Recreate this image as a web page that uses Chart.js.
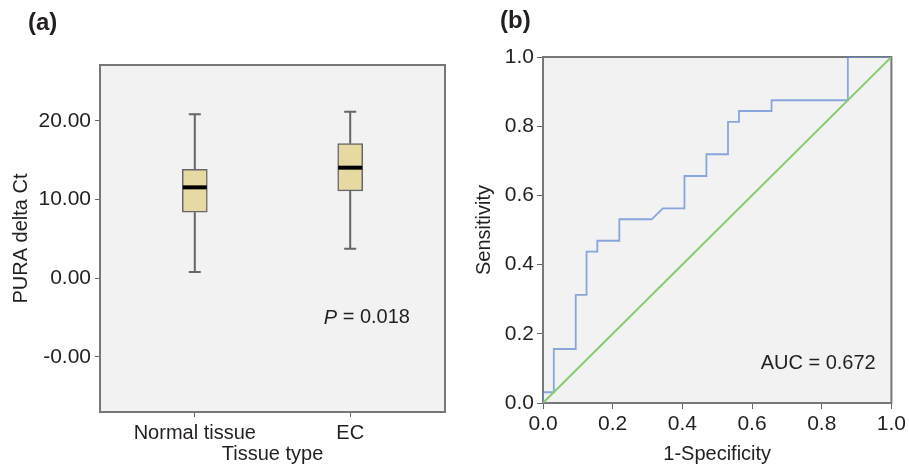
<!DOCTYPE html>
<html>
<head>
<meta charset="utf-8">
<script src="https://cdn.jsdelivr.net/npm/chart.js@4/dist/chart.umd.min.js"></script>
<style>
  body { margin: 0; background: #fff; }
  #wrap { position: relative; width: 909px; height: 470px; font-family: "Liberation Sans", Arial, sans-serif; color: #231f20; }
  .panel { position: absolute; top: 0; height: 470px; }
  .tag { position: absolute; font-weight: bold; font-size: 24px; }
</style>
</head>
<body>
<div id="wrap">
  <div class="panel" style="left:0;width:460px"><canvas id="boxChart"></canvas></div>
  <div class="panel" style="left:460px;width:449px"><canvas id="rocChart"></canvas></div>
  <div class="tag" style="left:28px;top:8px">(a)</div>
  <div class="tag" style="left:500px;top:6px">(b)</div>
</div>
<script>
// === (a) box plot data ===
const tissueTypes = ['Normal tissue', 'EC'];
const whiskerLow = [0.8, 3.75];
const boxQ1 = [8.4, 11.1];
const boxMedian = [11.55, 14.05];
const boxQ3 = [13.85, 17.1];
const whiskerHigh = [20.85, 21.15];
const deltaTicks = [-10, 0, 10, 20];
const deltaTickLabels = ['-0.00', '0.00', '10.00', '20.00'];

// === (b) ROC data ===
const fpr = [0, 0, 0.031, 0.031, 0.094, 0.094, 0.125, 0.125, 0.156, 0.156, 0.219, 0.219, 0.312, 0.344,
             0.406, 0.406, 0.469, 0.469, 0.531, 0.531, 0.5625, 0.5625, 0.656, 0.656, 0.875, 0.875, 1];
const tpr = [0, 0.031, 0.031, 0.156, 0.156, 0.3125, 0.3125, 0.4375, 0.4375, 0.469, 0.469, 0.531, 0.531, 0.5625,
             0.5625, 0.656, 0.656, 0.719, 0.719, 0.8125, 0.8125, 0.844, 0.844, 0.875, 0.875, 1, 1];
const refLine = [0, 1];
const rocTicks = [0, 0.2, 0.4, 0.6, 0.8, 1.0];

const textColor = '#231f20';
const tickFont = { family: '"Liberation Sans", Arial, sans-serif', size: 21 };
const titleFont = { family: '"Liberation Sans", Arial, sans-serif', size: 20 };

// grey plot background + frame (drawn under the data lines)
const plotFrame = {
  id: 'plotFrame',
  beforeDatasetsDraw(chart) {
    const a = chart.chartArea, ctx = chart.ctx;
    ctx.save();
    ctx.fillStyle = '#f2f2f2';
    ctx.fillRect(a.left, a.top, a.right - a.left, a.bottom - a.top);
    ctx.strokeStyle = '#777';
    ctx.lineWidth = 2;
    ctx.strokeRect(a.left, a.top, a.right - a.left, a.bottom - a.top);
    ctx.restore();
  }
};

// whiskers, caps and medians for the box plot
const boxExtras = {
  id: 'boxExtras',
  beforeDatasetsDraw(chart) {
    const x = chart.scales.x, y = chart.scales.y, ctx = chart.ctx;
    ctx.save();
    ctx.strokeStyle = '#666';
    ctx.lineWidth = 2;
    tissueTypes.forEach((t, i) => {
      const px = x.getPixelForValue(i);
      ctx.beginPath();
      ctx.moveTo(px, y.getPixelForValue(whiskerLow[i]));
      ctx.lineTo(px, y.getPixelForValue(boxQ1[i]));
      ctx.moveTo(px, y.getPixelForValue(boxQ3[i]));
      ctx.lineTo(px, y.getPixelForValue(whiskerHigh[i]));
      [whiskerLow[i], whiskerHigh[i]].forEach(v => {
        ctx.moveTo(px - 6, y.getPixelForValue(v));
        ctx.lineTo(px + 6, y.getPixelForValue(v));
      });
      ctx.stroke();
    });
    ctx.restore();
  },
  afterDatasetsDraw(chart) {
    const x = chart.scales.x, y = chart.scales.y, ctx = chart.ctx;
    ctx.save();
    ctx.strokeStyle = '#000';
    ctx.lineWidth = 4;
    tissueTypes.forEach((t, i) => {
      const px = x.getPixelForValue(i), py = y.getPixelForValue(boxMedian[i]);
      ctx.beginPath();
      ctx.moveTo(px - 12, py);
      ctx.lineTo(px + 12, py);
      ctx.stroke();
    });
    // P value note
    ctx.fillStyle = textColor;
    ctx.textBaseline = 'middle';
    ctx.textAlign = 'left';
    const nx = x.getPixelForValue(0.83), ny = y.getPixelForValue(-5.05);
    ctx.font = 'italic 20px "Liberation Sans", Arial, sans-serif';
    ctx.fillText('P', nx, ny);
    const w = ctx.measureText('P').width;
    ctx.font = '20px "Liberation Sans", Arial, sans-serif';
    ctx.fillText(' = 0.018', nx + w, ny);
    ctx.restore();
  }
};

const aucNote = {
  id: 'aucNote',
  afterDatasetsDraw(chart) {
    const x = chart.scales.x, y = chart.scales.y, ctx = chart.ctx;
    ctx.save();
    ctx.fillStyle = textColor;
    ctx.font = '20px "Liberation Sans", Arial, sans-serif';
    ctx.textAlign = 'right';
    ctx.textBaseline = 'middle';
    ctx.fillText('AUC = 0.672', x.getPixelForValue(0.955), y.getPixelForValue(0.115));
    ctx.restore();
  }
};

new Chart(document.getElementById('boxChart'), {
  type: 'bar',
  data: {
    datasets: [{
      data: tissueTypes.map((t, i) => ({ x: i, y: [boxQ1[i], boxQ3[i]] })),
      backgroundColor: '#e6d9a2',
      borderColor: '#666',
      borderWidth: 1.5,
      borderSkipped: false,
      barThickness: 25
    }]
  },
  options: {
    responsive: true,
    maintainAspectRatio: false,
    animation: false,
    layout: { padding: { top: 65, right: 15, left: 0, bottom: 0 } },
    plugins: { legend: { display: false }, tooltip: { enabled: false } },
    scales: {
      x: {
        type: 'linear',
        min: -0.61,
        max: 1.61,
        offset: false,
        afterBuildTicks: s => { s.ticks = tissueTypes.map((t, i) => ({ value: i })); },
        afterFit: s => { s.height = 58; },
        ticks: { callback: v => tissueTypes[v], color: textColor, font: titleFont, padding: 4, maxRotation: 0 },
        grid: { drawOnChartArea: false, offset: false, tickLength: 5, color: '#666' },
        border: { display: false },
        title: { display: true, text: 'Tissue type', color: textColor, font: titleFont, padding: { top: 0, bottom: 4 } }
      },
      y: {
        min: -17,
        max: 27.1,
        afterBuildTicks: s => { s.ticks = deltaTicks.map(v => ({ value: v })); },
        afterFit: s => { s.width = 100; },
        ticks: { callback: v => deltaTickLabels[deltaTicks.indexOf(v)], color: textColor, font: tickFont, padding: 4 },
        grid: { drawOnChartArea: false, tickLength: 5, color: '#666' },
        border: { display: false },
        title: { display: true, text: 'PURA delta Ct', color: textColor, font: titleFont, padding: { top: 9, bottom: 0 } }
      }
    }
  },
  plugins: [plotFrame, boxExtras]
});

new Chart(document.getElementById('rocChart'), {
  type: 'line',
  data: {
    datasets: [{
      data: refLine.map(v => ({ x: v, y: v })),
      borderColor: '#86cc6e',
      borderWidth: 2,
      pointRadius: 0
    }, {
      data: fpr.map((v, i) => ({ x: v, y: tpr[i] })),
      borderColor: 'rgba(100,140,210,0.75)',
      borderWidth: 1.8,
      pointRadius: 0,
      tension: 0
    }]
  },
  options: {
    responsive: true,
    maintainAspectRatio: false,
    animation: false,
    layout: { padding: { top: 57, right: 17, left: 0, bottom: 0 } },
    plugins: { legend: { display: false }, tooltip: { enabled: false } },
    scales: {
      x: {
        type: 'linear',
        min: 0,
        max: 1,
        afterBuildTicks: s => { s.ticks = rocTicks.map(v => ({ value: v })); },
        afterFit: s => { s.height = 67; },
        ticks: { callback: v => v.toFixed(1), color: textColor, font: tickFont, padding: 3, maxRotation: 0 },
        grid: { drawOnChartArea: false, tickLength: 6, color: '#666' },
        border: { display: false },
        title: { display: true, text: '1-Specificity', color: textColor, font: titleFont, padding: { top: 0, bottom: 4 } }
      },
      y: {
        min: 0,
        max: 1,
        afterBuildTicks: s => { s.ticks = rocTicks.map(v => ({ value: v })); },
        afterFit: s => { s.width = 83; },
        ticks: { callback: v => v.toFixed(1), color: textColor, font: tickFont, padding: 3 },
        grid: { drawOnChartArea: false, tickLength: 6, color: '#666' },
        border: { display: false },
        title: { display: true, text: 'Sensitivity', color: textColor, font: titleFont, padding: { top: 12, bottom: 0 } }
      }
    }
  },
  plugins: [plotFrame, aucNote]
});
</script>
</body>
</html>
